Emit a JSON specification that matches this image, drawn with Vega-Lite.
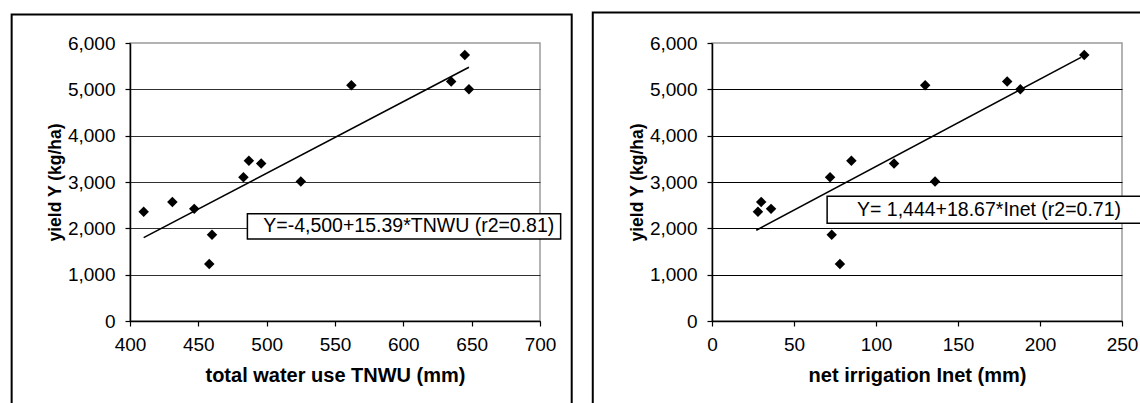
{
  "$schema": "https://vega.github.io/schema/vega-lite/v6.json",
  "padding": {"left": 9, "top": 10, "right": 0, "bottom": 0},
  "background": "white",
  "spacing": 17,
  "datasets": {
    "obs": [
      {"TNWU": 410, "Inet": 28, "Y": 2360},
      {"TNWU": 431, "Inet": 30, "Y": 2570},
      {"TNWU": 447, "Inet": 36, "Y": 2420},
      {"TNWU": 460, "Inet": 73, "Y": 1860},
      {"TNWU": 458, "Inet": 78, "Y": 1230},
      {"TNWU": 483, "Inet": 72, "Y": 3100},
      {"TNWU": 487, "Inet": 85, "Y": 3460},
      {"TNWU": 496, "Inet": 111, "Y": 3400},
      {"TNWU": 525, "Inet": 136, "Y": 3010},
      {"TNWU": 562, "Inet": 130, "Y": 5090},
      {"TNWU": 635, "Inet": 180, "Y": 5170},
      {"TNWU": 645, "Inet": 227, "Y": 5740},
      {"TNWU": 648, "Inet": 188, "Y": 5000}
    ],
    "fitL": [
      {"TNWU": 410, "Y": 1800},
      {"TNWU": 648, "Y": 5475}
    ],
    "fitR": [
      {"Inet": 27, "Y": 1960},
      {"Inet": 225, "Y": 5690}
    ]
  },
  "config": {
    "font": "Liberation Sans",
    "view": {"stroke": "#9a9a9a", "strokeWidth": 1.5},
    "axis": {
      "labelFont": "Liberation Sans",
      "labelFontSize": 19,
      "labelColor": "#000000",
      "titleFont": "Liberation Sans",
      "titleFontWeight": "bold",
      "titleColor": "#000000",
      "domainColor": "#000000",
      "domainWidth": 1.5,
      "tickColor": "#000000",
      "tickSize": 5,
      "tickWidth": 1.2,
      "labelFlush": false,
      "labelOverlap": false,
      "labelBound": false,
      "grid": false
    },
    "axisX": {"labelPadding": 9, "titlePadding": 11, "titleFontSize": 20},
    "axisY": {"labelPadding": 10, "titlePadding": 3, "titleFontSize": 17.5}
  },
  "hconcat": [
    {
      "width": 410,
      "height": 278,
      "layer": [
        {
          "data": {"values": [{}]},
          "mark": {"type": "rect", "filled": false, "stroke": "#000000", "strokeWidth": 2},
          "encoding": {
            "x": {"datum": 313.4, "type": "quantitative", "scale": {"domain": [400, 700], "nice": false, "zero": false}},
            "x2": {"datum": 723.2},
            "y": {"datum": 6615, "type": "quantitative", "scale": {"domain": [0, 6000], "nice": false, "zero": false}},
            "y2": {"datum": -1867}
          }
        },
        {
          "data": {"name": "obs"},
          "mark": {"type": "point", "shape": "diamond", "filled": true, "color": "#000000", "size": 110, "opacity": 1, "strokeWidth": 0},
          "encoding": {
            "x": {
              "field": "TNWU", "type": "quantitative",
              "scale": {"domain": [400, 700], "nice": false, "zero": false},
              "axis": {"title": "total water use TNWU (mm)", "values": [400, 450, 500, 550, 600, 650, 700]}
            },
            "y": {
              "field": "Y", "type": "quantitative",
              "scale": {"domain": [0, 6000], "nice": false, "zero": false},
              "axis": {
                "title": "yield Y (kg/ha)",
                "values": [0, 1000, 2000, 3000, 4000, 5000, 6000],
                "format": ",d",
                "grid": true,
                "gridColor": "#303030",
                "gridWidth": 1,
                "gridOpacity": {"condition": {"test": "datum.value >= 6000", "value": 0}, "value": 1}
              }
            }
          }
        },
        {
          "data": {"name": "fitL"},
          "mark": {"type": "line", "color": "#000000", "strokeWidth": 1.6},
          "encoding": {
            "x": {"field": "TNWU", "type": "quantitative", "scale": {"domain": [400, 700], "nice": false, "zero": false}},
            "y": {"field": "Y", "type": "quantitative", "scale": {"domain": [0, 6000], "nice": false, "zero": false}}
          }
        },
        {
          "data": {"values": [{}]},
          "mark": {"type": "rect", "fill": "#ffffff", "stroke": "#000000", "strokeWidth": 1.5},
          "encoding": {
            "x": {"datum": 485.9, "type": "quantitative", "scale": {"domain": [400, 700], "nice": false, "zero": false}},
            "x2": {"datum": 715.1},
            "y": {"datum": 2316, "type": "quantitative", "scale": {"domain": [0, 6000], "nice": false, "zero": false}},
            "y2": {"datum": 1770}
          }
        },
        {
          "data": {"values": [{}]},
          "mark": {"type": "text", "font": "Liberation Sans", "fontSize": 19.5, "color": "#000000", "align": "center", "baseline": "middle", "text": "Y=-4,500+15.39*TNWU (r2=0.81)"},
          "encoding": {
            "x": {"datum": 604, "type": "quantitative", "scale": {"domain": [400, 700], "nice": false, "zero": false}},
            "y": {"datum": 2042, "type": "quantitative", "scale": {"domain": [0, 6000], "nice": false, "zero": false}}
          }
        }
      ]
    },
    {
      "width": 410,
      "height": 278,
      "layer": [
        {
          "data": {"values": [{}]},
          "mark": {"type": "rect", "filled": false, "stroke": "#000000", "strokeWidth": 2},
          "encoding": {
            "x": {"datum": -72.7, "type": "quantitative", "scale": {"domain": [0, 250], "nice": false, "zero": false}},
            "x2": {"datum": 268},
            "y": {"datum": 6658, "type": "quantitative", "scale": {"domain": [0, 6000], "nice": false, "zero": false}},
            "y2": {"datum": -1867}
          }
        },
        {
          "data": {"name": "obs"},
          "mark": {"type": "point", "shape": "diamond", "filled": true, "color": "#000000", "size": 110, "opacity": 1, "strokeWidth": 0},
          "encoding": {
            "x": {
              "field": "Inet", "type": "quantitative",
              "scale": {"domain": [0, 250], "nice": false, "zero": false},
              "axis": {"title": "net irrigation Inet (mm)", "values": [0, 50, 100, 150, 200, 250]}
            },
            "y": {
              "field": "Y", "type": "quantitative",
              "scale": {"domain": [0, 6000], "nice": false, "zero": false},
              "axis": {
                "title": "yield Y (kg/ha)",
                "values": [0, 1000, 2000, 3000, 4000, 5000, 6000],
                "format": ",d",
                "grid": true,
                "gridColor": "#000000",
                "gridWidth": 1,
                "gridOpacity": {"condition": {"test": "datum.value >= 6000", "value": 0}, "value": 1}
              }
            }
          }
        },
        {
          "data": {"name": "fitR"},
          "mark": {"type": "line", "color": "#000000", "strokeWidth": 1.6},
          "encoding": {
            "x": {"field": "Inet", "type": "quantitative", "scale": {"domain": [0, 250], "nice": false, "zero": false}},
            "y": {"field": "Y", "type": "quantitative", "scale": {"domain": [0, 6000], "nice": false, "zero": false}}
          }
        },
        {
          "data": {"values": [{}]},
          "mark": {"type": "rect", "fill": "#ffffff", "stroke": "#000000", "strokeWidth": 1.5},
          "encoding": {
            "x": {"datum": 70.2, "type": "quantitative", "scale": {"domain": [0, 250], "nice": false, "zero": false}},
            "x2": {"datum": 264},
            "y": {"datum": 2690, "type": "quantitative", "scale": {"domain": [0, 6000], "nice": false, "zero": false}},
            "y2": {"datum": 2111}
          }
        },
        {
          "data": {"values": [{}]},
          "mark": {"type": "text", "font": "Liberation Sans", "fontSize": 19.5, "color": "#000000", "align": "center", "baseline": "middle", "text": "Y= 1,444+18.67*Inet (r2=0.71)"},
          "encoding": {
            "x": {"datum": 168.9, "type": "quantitative", "scale": {"domain": [0, 250], "nice": false, "zero": false}},
            "y": {"datum": 2400, "type": "quantitative", "scale": {"domain": [0, 6000], "nice": false, "zero": false}}
          }
        }
      ]
    }
  ]
}
